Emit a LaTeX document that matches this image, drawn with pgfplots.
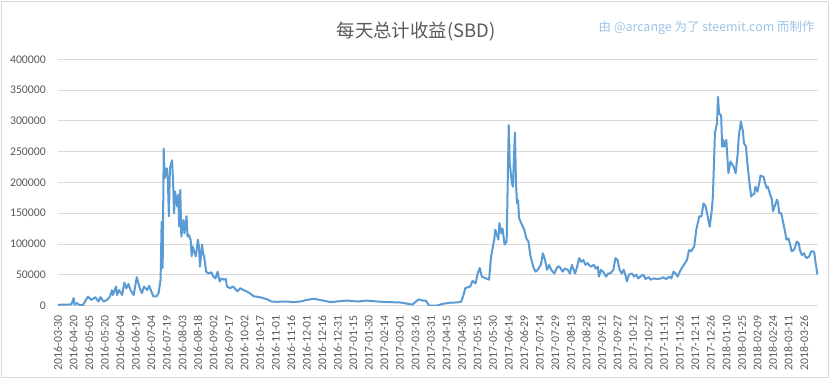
\documentclass[border=0pt]{standalone}
\usepackage{fontspec}
\setmainfont{Carlito}
\newfontfamily\cjk{Noto Sans CJK SC}
\usepackage{pgfplots}
\pgfplotsset{compat=1.18}
\definecolor{lbl}{HTML}{595959}
\definecolor{grd}{HTML}{D9D9D9}
\definecolor{ln}{HTML}{5B9BD5}
\definecolor{wm}{HTML}{9DC3E6}
\begin{document}
\begin{tikzpicture}[x=1bp,y=1bp]
\useasboundingbox (0,0) rectangle (833,379);
\draw[grd, line width=0.75bp] (1,1.5) rectangle (828,378);
\begin{axis}[
  at={(57.5bp,73.5bp)}, anchor=south west,
  scale only axis, width=760.5bp, height=246.2bp,
  xmin=-0.5, xmax=733.5, ymin=0, ymax=400000,
  axis line style={draw=none}, tick style={draw=none},
  ytick={0,50000,...,400000},
  ymajorgrids, grid style={grd, line width=0.75bp},
  scaled y ticks=false,
  yticklabel style={/pgf/number format/fixed, /pgf/number format/1000 sep={}, /pgf/number format/assume math mode=true, font=\fontsize{11.8}{12}\selectfont, text=lbl, inner sep=0pt},
  yticklabel shift=11.5bp,
  xtick={0,15,...,720},
  xticklabels={2016-03-30,2016-04-20,2016-05-05,2016-05-20,2016-06-04,2016-06-19,2016-07-04,2016-07-19,2016-08-03,2016-08-18,2016-09-02,2016-09-17,2016-10-02,2016-10-17,2016-11-01,2016-11-16,2016-12-01,2016-12-16,2016-12-31,2017-01-15,2017-01-30,2017-02-14,2017-03-01,2017-03-16,2017-03-31,2017-04-15,2017-04-30,2017-05-15,2017-05-30,2017-06-14,2017-06-29,2017-07-14,2017-07-29,2017-08-13,2017-08-28,2017-09-12,2017-09-27,2017-10-12,2017-10-27,2017-11-11,2017-11-26,2017-12-11,2017-12-26,2018-01-10,2018-01-25,2018-02-09,2018-02-24,2018-03-11,2018-03-26},
  xticklabel style={font=\fontsize{11.8}{12}\selectfont, text=lbl, inner sep=0pt, rotate=90, anchor=east},
  xticklabel shift=9.5bp,
]
\addplot[ln, line width=2bp, line join=round, no markers] table {
x y
0 1000
5 1500
10 1500
13 2000
15 12000
16 1500
18 4000
21 500
24 500
26 6500
29 14600
32 9000
36 13500
39 6500
41 13500
44 6500
47 9000
50 14000
52 25000
53 17000
56 31000
57 17000
59 25000
62 17000
64 37000
66 28000
68 35000
70 25000
73 17000
76 46000
79 28000
81 20000
83 31000
86 25000
88 32000
90 23000
92 15000
95 15000
97 20000
99 42000
100 136000
101 61000
102 255000
103 207000
105 223000
106 204000
107 145000
108 223000
110 236000
111 204000
112 150000
113 185000
115 161000
116 180000
117 128000
118 188000
119 112000
121 139000
122 117000
124 145000
125 112000
126 115000
128 107000
129 80000
130 96000
131 90000
133 80000
135 107000
136 96000
137 63000
139 99000
140 85000
141 80000
143 55000
145 52000
148 54000
150 47000
152 44000
154 55000
156 39000
158 44000
160 42000
162 43000
163 31000
166 28000
169 31000
173 23000
176 28000
179 25000
182 23000
185 20000
189 15000
195 13500
202 10000
206 6500
211 6000
221 6500
227 5500
234 6500
240 9000
247 11000
253 9000
263 5500
269 6500
279 8000
289 6500
298 8000
308 6500
318 5500
330 5000
337 3000
342 1500
348 10000
352 8000
355 8000
358 0
366 0
372 3000
379 4600
385 5000
389 6000
391 14600
393 28000
396 30000
398 31000
400 40000
403 36000
405 52000
407 61000
409 47000
413 44000
416 42000
418 80000
421 107000
422 123000
425 107000
426 134000
428 117000
429 125000
431 99000
433 104000
435 293000
436 231000
438 199000
439 193000
441 281000
442 199000
443 166000
444 171000
445 142000
447 134000
450 123000
452 109000
454 104000
456 80000
459 61000
461 55000
463 58000
466 66000
468 85000
470 74000
472 58000
474 66000
476 58000
479 52000
482 63000
484 63000
487 55000
489 60000
492 58000
494 52000
496 66000
499 52000
501 63000
503 77000
505 71000
507 74000
509 66000
511 69000
514 63000
517 66000
519 60000
521 63000
522 47000
524 58000
526 55000
529 47000
531 52000
533 52000
536 58000
538 77000
540 74000
542 58000
544 52000
546 58000
548 47000
549 39000
551 50000
554 52000
556 47000
558 50000
560 44000
562 47000
565 50000
567 43000
570 46000
572 42000
575 44000
578 43000
582 44000
584 46000
587 43000
590 47000
592 44000
594 55000
596 52000
598 47000
601 58000
604 66000
607 74000
609 90000
611 88000
614 96000
616 123000
619 145000
621 145000
623 166000
625 161000
627 145000
629 128000
631 155000
632 177000
633 226000
634 280000
636 296000
637 339000
638 312000
640 309000
641 258000
642 269000
643 258000
645 269000
646 242000
647 215000
649 234000
651 228000
652 226000
654 215000
656 247000
657 274000
659 299000
661 283000
662 264000
664 258000
665 237000
667 204000
669 177000
670 180000
672 181000
673 193000
675 185000
677 201000
678 211000
681 209000
682 201000
684 191000
685 193000
687 182000
689 172000
690 153000
692 163000
694 172000
695 166000
696 150000
698 150000
700 134000
702 117000
703 107000
705 109000
707 96000
708 88000
710 90000
711 93000
713 104000
715 101000
716 90000
718 82000
720 85000
721 80000
723 77000
725 80000
727 88000
729 88000
730 85000
731 71000
733 50000
};
\end{axis}
\node[font=\cjk\fontsize{18.5}{20}\selectfont, text=lbl] at (416,347) {每天总计收益(SBD)};
\node[anchor=east, font=\cjk\fontsize{12.5}{14}\selectfont, text=wm] at (818,351) {由 @arcange 为了 steemit.com 而制作};
\end{tikzpicture}
\end{document}
